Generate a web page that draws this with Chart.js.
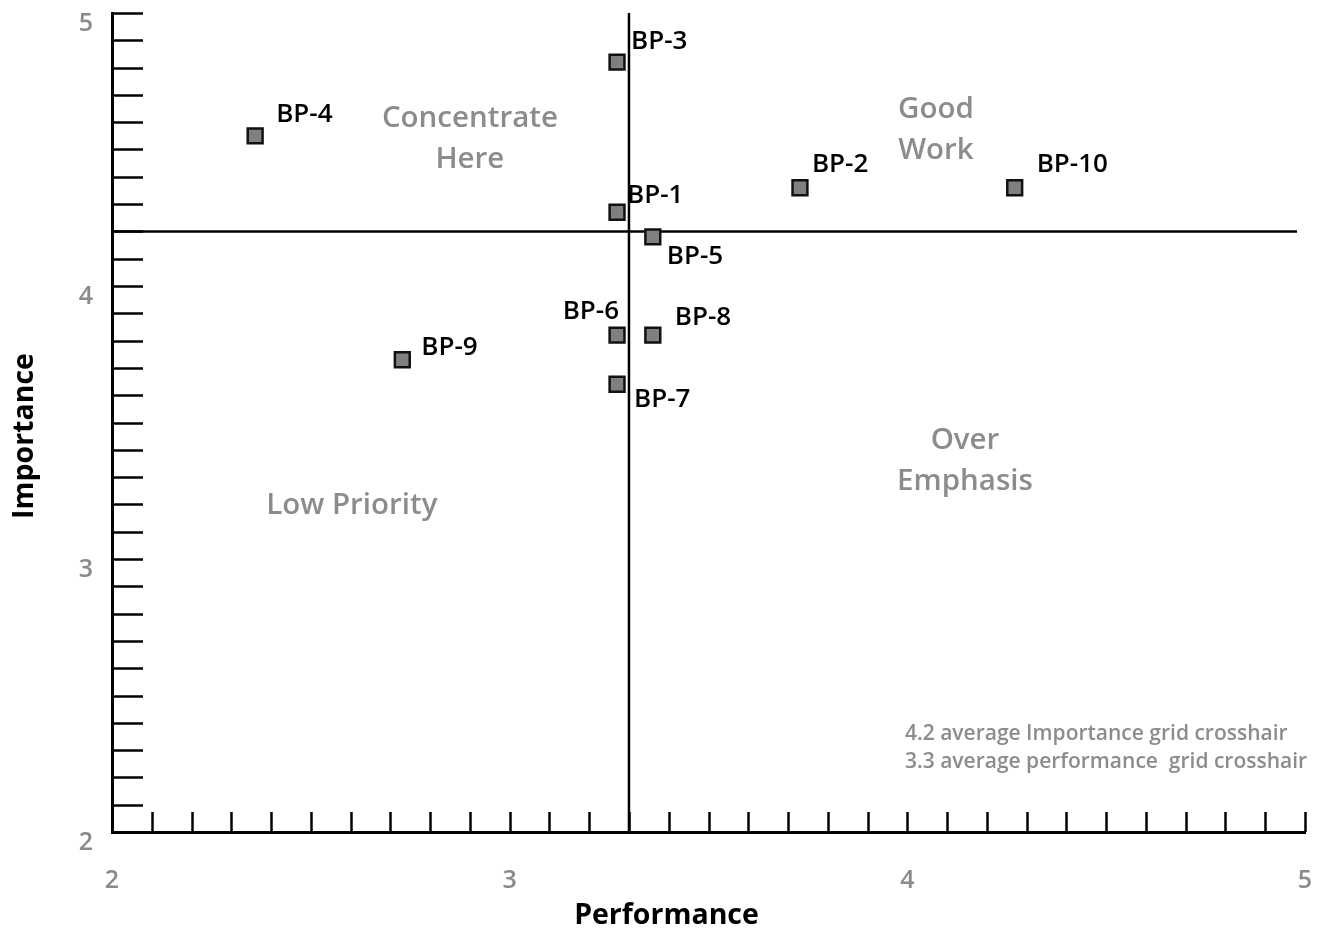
<!DOCTYPE html>
<html>
<head>
<meta charset="utf-8">
<title>Importance vs Performance</title>
<script src="https://cdn.jsdelivr.net/npm/chart.js@4.4.1/dist/chart.umd.min.js"></script>
<style>
  html, body { margin: 0; padding: 0; background: #fff; }
  #wrap { width: 1323px; height: 935px; }
</style>
</head>
<body>
<div id="wrap"><canvas id="ipaChart" width="1323" height="935"></canvas></div>
<script>
// Datos del gráfico
const labels = ['BP-1', 'BP-2', 'BP-3', 'BP-4', 'BP-5', 'BP-6', 'BP-7', 'BP-8', 'BP-9', 'BP-10'];
const performance = [3.27, 3.73, 3.27, 2.36, 3.36, 3.27, 3.27, 3.36, 2.73, 4.27];
const importance = [4.27, 4.36, 4.82, 4.55, 4.18, 3.82, 3.64, 3.82, 3.73, 4.36];

const avgImportance = 4.2;
const avgPerformance = 3.3;

const xTicks = [2, 3, 4, 5];
const yTicks = [2, 3, 4, 5];

const xTitle = 'Performance';
const yTitle = 'Importance';
const quadrantTitles = [['Concentrate', 'Here'], ['Good', 'Work'], ['Low Priority'], ['Over', 'Emphasis']];
const notes = ['4.2 average Importance grid crosshair', '3.3 average performance  grid crosshair'];

// Colores
const GRAY = '#8a8a8a';
const BLACK = '#000';
const FONT = "'Open Sans', 'Noto Sans', sans-serif";

// Posicion de las etiquetas de cada punto (desplazamiento en px respecto al punto)
const labelOffsets = {
    'BP-1': [10, -17, 'left'],
    'BP-2': [12, -23, 'left'],
    'BP-3': [14, -21, 'left'],
    'BP-4': [21, -21, 'left'],
    'BP-5': [14, 20, 'left'],
    'BP-6': [2, -24, 'right'],
    'BP-7': [17, 15, 'left'],
    'BP-8': [22, -18, 'left'],
    'BP-9': [19, -12, 'left'],
    'BP-10': [22, -23, 'left']
};

// Posicion de los textos de cuadrante en coordenadas de datos
const quadrantAnchors = [[2.90, 4.612], [4.072, 4.645], [2.603, 3.197], [4.145, 3.435]];
const noteAnchor = [3.994, 2.359];

// Quitar el relleno automatico que Chart.js reserva para las etiquetas
function fixPadding(scale) {
    scale.paddingTop = 0;
    scale.paddingBottom = 0;
    scale.paddingLeft = 0;
    scale.paddingRight = 0;
}

const overlayPlugin = {
    id: 'ipaOverlay',
    beforeDatasetsDraw(chart) {
        const ctx = chart.ctx;
        const xs = chart.scales.x;
        const ys = chart.scales.y;
        ctx.save();
        ctx.strokeStyle = BLACK;
        ctx.lineWidth = 2.5;
        ctx.beginPath();
        // marcas menores en el eje Y (hacia dentro)
        for (let i = 1; i <= 30; i++) {
            const py = Math.round(ys.getPixelForValue(2 + i / 10)) + 0.5;
            ctx.moveTo(xs.left, py);
            ctx.lineTo(xs.left + 31, py);
        }
        // marcas menores en el eje X (hacia arriba)
        for (let i = 1; i <= 30; i++) {
            const px = Math.round(xs.getPixelForValue(2 + i / 10)) + 0.5;
            ctx.moveTo(px, ys.bottom);
            ctx.lineTo(px, ys.bottom - 20);
        }
        ctx.stroke();

        // Titulos de ejes
        ctx.fillStyle = BLACK;
        ctx.font = '700 28.5px ' + FONT;
        ctx.textAlign = 'center';
        ctx.textBaseline = 'middle';
        ctx.fillText(xTitle, chart.width / 2 + 5, 916);
        ctx.save();
        ctx.translate(25, 436);
        ctx.rotate(-Math.PI / 2);
        ctx.fillText(yTitle, 0, 0);
        ctx.restore();

        // Textos de cuadrante
        ctx.fillStyle = '#8c8c8c';
        ctx.font = '600 29.5px ' + FONT;
        quadrantTitles.forEach((lines, qi) => {
            const cx = xs.getPixelForValue(quadrantAnchors[qi][0]);
            const cy = ys.getPixelForValue(quadrantAnchors[qi][1]);
            lines.forEach((t, li) => ctx.fillText(t, cx, cy + li * 41));
        });

        // Nota
        ctx.font = '600 21px ' + FONT;
        ctx.textAlign = 'left';
        const nx = xs.getPixelForValue(noteAnchor[0]);
        const ny = ys.getPixelForValue(noteAnchor[1]);
        notes.forEach((t, i) => ctx.fillText(t, nx, ny + i * 28));
        ctx.restore();
    },
    afterDatasetsDraw(chart) {
        const ctx = chart.ctx;
        const meta = chart.getDatasetMeta(0);
        ctx.save();
        ctx.fillStyle = BLACK;
        ctx.font = '600 26px ' + FONT;
        ctx.textBaseline = 'middle';
        meta.data.forEach((pt, i) => {
            const off = labelOffsets[labels[i]] || [12, -20, 'left'];
            ctx.textAlign = off[2];
            ctx.fillText(labels[i], pt.x + off[0], pt.y + off[1]);
        });
        ctx.restore();
    }
};

const points = labels.map((l, i) => ({ x: performance[i], y: importance[i] }));

const config = {
    type: 'scatter',
    data: {
        datasets: [
            {
                label: 'Best practices',
                data: points,
                pointStyle: 'rect',
                pointRadius: 10.5,
                pointHoverRadius: 10.5,
                backgroundColor: '#808080',
                borderColor: '#111',
                borderWidth: 2.5,
                order: 0
            },
            {
                label: 'Importance average',
                data: [{ x: 2, y: avgImportance }, { x: 4.98, y: avgImportance }],
                showLine: true,
                pointRadius: 0,
                borderColor: BLACK,
                borderWidth: 2.5,
                order: 1
            },
            {
                label: 'Performance average',
                data: [{ x: avgPerformance, y: 2 }, { x: avgPerformance, y: 5 }],
                showLine: true,
                pointRadius: 0,
                borderColor: BLACK,
                borderWidth: 2.5,
                order: 1
            }
        ]
    },
    options: {
        responsive: false,
        animation: false,
        layout: { padding: { top: 13, right: 18, left: 0, bottom: 0 } },
        plugins: {
            legend: { display: false },
            tooltip: { enabled: false }
        },
        scales: {
            x: {
                type: 'linear',
                min: 2,
                max: 5,
                afterBuildTicks: (scale) => { scale.ticks = xTicks.map(v => ({ value: v })); },
                afterFit: (scale) => { scale.height = 103; fixPadding(scale); },
                grid: { display: true, drawOnChartArea: false, drawTicks: false },
                border: { display: true, color: BLACK, width: 3 },
                ticks: {
                    color: GRAY,
                    padding: 36,
                    font: { family: FONT, size: 25, weight: '600', lineHeight: 1 }
                },
                title: { display: false }
            },
            y: {
                type: 'linear',
                min: 2,
                max: 5,
                afterBuildTicks: (scale) => { scale.ticks = yTicks.map(v => ({ value: v })); },
                afterFit: (scale) => { scale.width = 112; fixPadding(scale); },
                grid: { display: true, drawOnChartArea: false, drawTicks: false },
                border: { display: true, color: BLACK, width: 3 },
                ticks: {
                    color: GRAY,
                    padding: 19,
                    labelOffset: 11,
                    font: { family: FONT, size: 25, weight: '600', lineHeight: 1 }
                },
                title: { display: false }
            }
        }
    },
    plugins: [overlayPlugin]
};

new Chart(document.getElementById('ipaChart'), config);
</script>
</body>
</html>
